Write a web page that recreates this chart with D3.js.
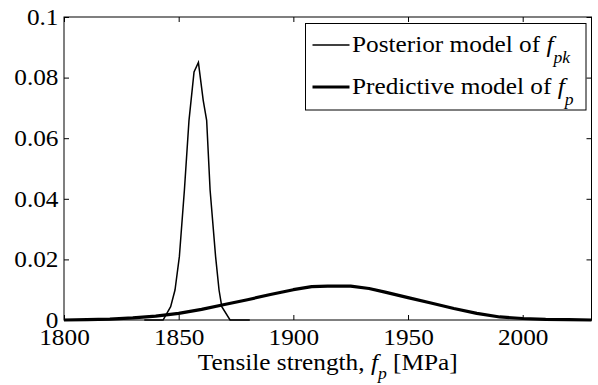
<!DOCTYPE html>
<html>
<head>
<meta charset="utf-8">
<script src="https://cdn.jsdelivr.net/npm/d3@7"></script>
<style>
  body { margin: 0; background: #fff; }
  text { font-family: "Liberation Serif", "Times New Roman", serif; fill: #000; }
</style>
</head>
<body>
<div id="chart"></div>
<script>
(function(){

    const width = 598;
    const height = 385;
    const serif = '"Liberation Serif", "Times New Roman", serif';

    // data
    const xTicks = [1800, 1850, 1900, 1950, 2000];
    const yTicks = [0, 0.02, 0.04, 0.06, 0.08, 0.1];

    const posteriorX = [1835, 1843.2, 1846.5, 1848.4, 1850.3, 1852.5, 1854.5, 1856.7, 1858.6, 1860.7, 1862.2, 1863.7, 1866.1, 1867.6, 1868.8, 1872.4, 1881];
    const posteriorY = [0, 0, 0.0044, 0.0099, 0.0209, 0.0429, 0.0659, 0.0819, 0.0850, 0.0725, 0.0659, 0.0429, 0.0209, 0.0099, 0.0044, 0, 0];

    const predictiveX = [1800, 1810, 1820, 1830, 1840, 1850, 1860, 1870, 1880, 1890, 1900, 1908, 1915, 1925, 1933, 1940, 1950, 1960, 1970, 1980, 1990, 2000, 2010, 2020, 2030];
    const predictiveY = [0, 0.0001, 0.0003, 0.0007, 0.0013, 0.0022, 0.0035, 0.0051, 0.0067, 0.0084, 0.0100, 0.0110, 0.0112, 0.0112, 0.0104, 0.0092, 0.0074, 0.0056, 0.0038, 0.0022, 0.0010, 0.0005, 0.0002, 0.0001, 0];

    const margin = {left: 64, top: 17, right: 598 - 591.5, bottom: 385 - 320};
    const stretch = 1.1; // text in the original is a bit wider than Times

    const svg = d3.select("#chart")
        .append("svg")
        .attr("width", width)
        .attr("height", height);

    const x = d3.scaleLinear().domain([1800, 2030]).range([margin.left, width - margin.right]);
    const y = d3.scaleLinear().domain([0, 0.1]).range([height - margin.bottom, margin.top]);

    const line = d3.line()
        .x(function(d){ return x(d[0]) })
        .y(function(d){ return y(d[1]) });

    // curves
    svg.append("path")
        .datum(posteriorX.map(function(v, i){ return [v, posteriorY[i]] }))
        .attr("d", line)
        .attr("fill", "none")
        .attr("stroke", "#000")
        .attr("stroke-width", 1.5);

    svg.append("path")
        .datum(predictiveX.map(function(v, i){ return [v, predictiveY[i]] }))
        .attr("d", line)
        .attr("fill", "none")
        .attr("stroke", "#000")
        .attr("stroke-width", 3.2)
        .attr("stroke-linejoin", "round");

    // box with inward ticks
    const tickLen = 5;
    const fixText = function(g){
        g.attr("font-family", serif).select(".domain").remove();
        g.selectAll("text")
            .style("font-family", serif)
            .attr("font-size", 23)
            .attr("transform", "scale(" + stretch + ",1)");
    };

    const gx = svg.append("g")
        .attr("transform", "translate(0," + y(0) + ")")
        .call(d3.axisBottom(x).tickValues(xTicks).tickSize(-tickLen).tickPadding(9).tickFormat(d3.format("d")))
        .call(fixText);
    gx.selectAll("text").attr("dy", "0.71em");

    svg.append("g")
        .attr("transform", "translate(0," + y(0.1) + ")")
        .call(d3.axisTop(x).tickValues(xTicks).tickSize(-tickLen).tickFormat(""))
        .call(fixText);

    svg.append("g")
        .attr("transform", "translate(" + x(1800) + ",0)")
        .call(d3.axisLeft(y).tickValues(yTicks).tickSize(-tickLen).tickPadding(5).tickFormat(d3.format("")))
        .call(fixText);

    svg.append("g")
        .attr("transform", "translate(" + x(2030) + ",0)")
        .call(d3.axisRight(y).tickValues(yTicks).tickSize(-tickLen).tickFormat(""))
        .call(fixText);

    svg.selectAll(".tick line").attr("stroke", "#000");

    svg.append("rect")
        .attr("x", x(1800))
        .attr("y", y(0.1))
        .attr("width", x(2030) - x(1800))
        .attr("height", y(0) - y(0.1))
        .attr("fill", "none")
        .attr("stroke", "#000")
        .attr("stroke-width", 1);

    // x axis title
    const title = svg.append("g")
        .attr("transform", "translate(" + ((x(1800) + x(2030)) / 2) + ",370) scale(" + stretch + ",1)")
        .append("text")
        .attr("text-anchor", "middle")
        .attr("font-size", 23);
    title.append("tspan").text("Tensile strength, ");
    title.append("tspan").attr("font-style", "italic").text("f");
    title.append("tspan").attr("font-style", "italic").attr("font-size", 16).attr("dy", 9).text("p");
    title.append("tspan").attr("dy", -9).text(" [MPa]");

    // legend
    const legend = svg.append("g");
    legend.append("rect")
        .attr("x", 305.5).attr("y", 23.5)
        .attr("width", 280.5).attr("height", 86.5)
        .attr("fill", "#fff").attr("stroke", "#000").attr("stroke-width", 1);

    const items = [
        {name: "Posterior model of ", sub: "pk", w: 1.5, yy: 45},
        {name: "Predictive model of ", sub: "p", w: 3.2, yy: 87}
    ];
    items.forEach(function(it){
        legend.append("line")
            .attr("x1", 312.5).attr("x2", 349.5)
            .attr("y1", it.yy).attr("y2", it.yy)
            .attr("stroke", "#000").attr("stroke-width", it.w);
        const t = legend.append("g")
            .attr("transform", "translate(352," + (it.yy + 7) + ") scale(" + stretch + ",1)")
            .append("text")
            .attr("font-size", 23);
        t.append("tspan").text(it.name);
        t.append("tspan").attr("font-style", "italic").text("f");
        t.append("tspan").attr("font-style", "italic").attr("font-size", 16).attr("dy", 11).text(it.sub);
    });

}());
</script>
</body>
</html>
